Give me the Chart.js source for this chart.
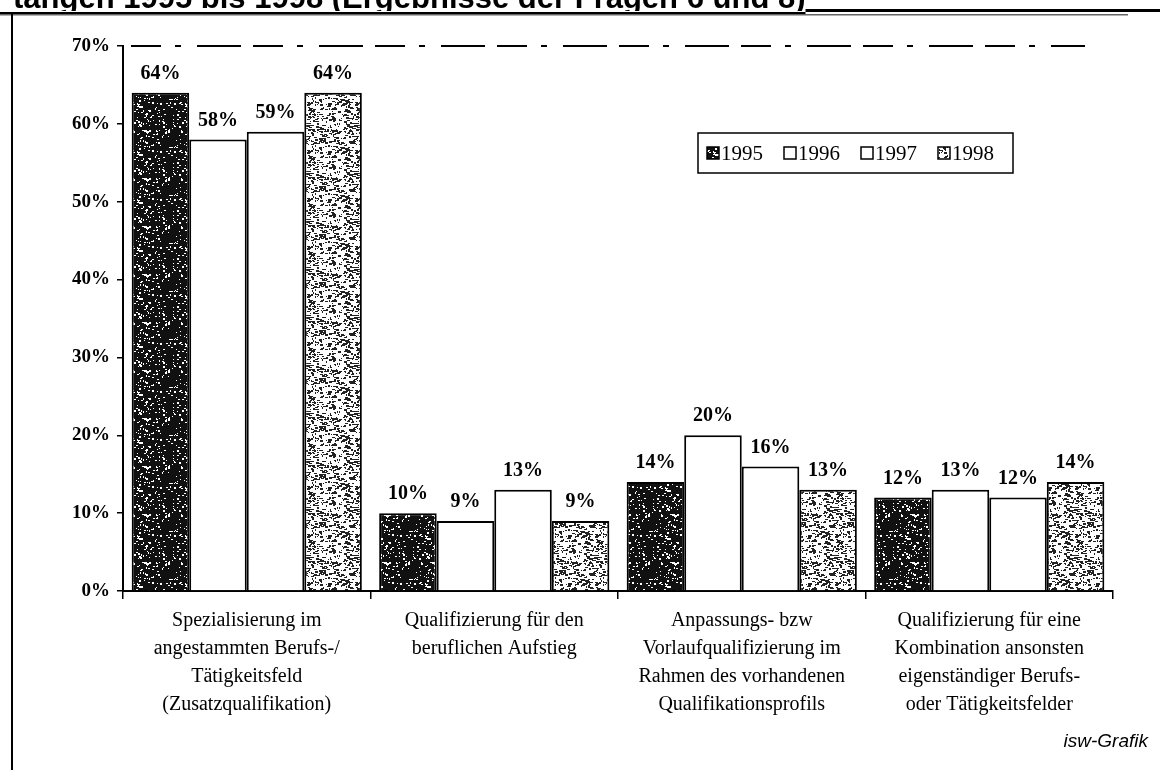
<!DOCTYPE html>
<html>
<head>
<meta charset="utf-8">
<script src="https://cdn.jsdelivr.net/npm/chart.js@4/dist/chart.umd.min.js"></script>
<style>
  html, body { margin: 0; padding: 0; background: #fff; }
  canvas { display: block; }
</style>
</head>
<body>
<canvas id="myChart" width="1160" height="770"></canvas>
<script>
// data
const categories = [
  ['Spezialisierung im', 'angestammten Berufs-/', 'Tätigkeitsfeld', '(Zusatzqualifikation)'],
  ['Qualifizierung für den', 'beruflichen Aufstieg'],
  ['Anpassungs- bzw', 'Vorlaufqualifizierung im', 'Rahmen des vorhandenen', 'Qualifikationsprofils'],
  ['Qualifizierung für eine', 'Kombination ansonsten', 'eigenständiger Berufs-', 'oder Tätigkeitsfelder']
];
const years = ['1995', '1996', '1997', '1998'];
const v1995 = [64, 10, 14, 12];
const v1996 = [58, 9, 20, 13];
const v1997 = [59, 13, 16, 12];
const v1998 = [64, 9, 13, 14];
const yTicks = [0, 10, 20, 30, 40, 50, 60, 70];

const titleText = 'tangen 1995 bis 1998 (Ergebnisse der Fragen 6 und 8)';
const SERIF = '"Liberation Serif", "Times New Roman", serif';
const SANS = '"Liberation Sans", Arial, sans-serif';

// scanned look: speckled fill
function speckle(base, ink, count, maxW, seed) {
  const c = document.createElement('canvas');
  c.width = 48; c.height = 48;
  const g = c.getContext('2d');
  g.fillStyle = base;
  g.fillRect(0, 0, 48, 48);
  g.fillStyle = ink;
  let s = seed;
  const next = () => { s = (s * 16807) % 2147483647; return s / 2147483647; };
  for (let i = 0; i < count; i++) {
    const x = Math.floor(next() * 48), y = Math.floor(next() * 48);
    const w = 1 + Math.floor(next() * maxW), h = 1 + Math.floor(next() * 1.5);
    g.fillRect(x, y, w, h);
  }
  return c.getContext('2d').createPattern(c, 'repeat');
}
const darkFill = speckle('#111111', '#ffffff', 150, 2, 12345);
const lightFill = speckle('#ffffff', '#222222', 360, 3, 67890);

const fills = [darkFill, '#ffffff', '#ffffff', lightFill];

const data = {
  labels: categories,
  datasets: [v1995, v1996, v1997, v1998].map((vals, i) => ({
    label: years[i],
    data: vals,
    backgroundColor: fills[i],
    borderColor: '#000',
    borderWidth: 2,
    borderSkipped: 'bottom',
    barPercentage: 1.0,
    categoryPercentage: 0.93
  }))
};

// page decoration: title strip, frame, credit
const pagePlugin = {
  id: 'page',
  beforeDraw(chart) {
    const ctx = chart.ctx;
    ctx.save();
    ctx.fillStyle = '#fff';
    ctx.fillRect(0, 0, chart.width, chart.height);
    ctx.fillStyle = '#000';
    ctx.font = 'bold 31px ' + SANS;
    ctx.textBaseline = 'alphabetic';
    ctx.textAlign = 'left';
    ctx.fillText(titleText, 13, 8);
    const tw = ctx.measureText(titleText).width;
    ctx.fillStyle = '#fff';
    ctx.fillRect(0, 11, chart.width, 4);
    ctx.fillStyle = '#000';
    ctx.fillRect(0, 12, 13 + tw, 2);
    ctx.fillRect(13 + tw, 9, chart.width, 3);
    ctx.fillStyle = '#666';
    ctx.fillRect(0, 14, 1128, 1.5);
    ctx.fillStyle = '#000';
    ctx.fillRect(11, 14, 2, chart.height - 14);
    ctx.font = 'italic 19px ' + SANS;
    ctx.textAlign = 'right';
    ctx.textBaseline = 'middle';
    ctx.fillText('isw-Grafik', 1148, 742);
    ctx.restore();
  }
};

// value labels, dashed top line and legend box
const labelPlugin = {
  id: 'labels',
  afterDatasetsDraw(chart) {
    const ctx = chart.ctx;
    const area = chart.chartArea;
    const yScale = chart.scales.y;
    ctx.save();
    // broken line at the top of the plot
    ctx.strokeStyle = '#000';
    ctx.lineWidth = 2;
    ctx.setLineDash([30, 14, 6, 16, 44, 12]);
    const yTop = yScale.getPixelForValue(70);
    ctx.beginPath();
    ctx.moveTo(area.left + 8, yTop);
    ctx.lineTo(area.right - 28, yTop);
    ctx.stroke();
    ctx.setLineDash([]);

    ctx.fillStyle = '#000';
    ctx.font = 'bold 20px ' + SERIF;
    ctx.textAlign = 'center';
    ctx.textBaseline = 'bottom';
    chart.data.datasets.forEach((ds, i) => {
      chart.getDatasetMeta(i).data.forEach((bar, j) => {
        ctx.fillText(ds.data[j] + '%', bar.x, bar.y - 9);
      });
    });

    // legend
    const lx = 698, ly = 133, lw = 315, lh = 40;
    ctx.lineWidth = 1.5;
    ctx.strokeRect(lx, ly, lw, lh);
    ctx.font = '21px ' + SERIF;
    ctx.textAlign = 'left';
    ctx.textBaseline = 'middle';
    let x = lx + 9;
    const cy = ly + lh / 2;
    chart.data.datasets.forEach((ds) => {
      ctx.fillStyle = ds.backgroundColor;
      ctx.fillRect(x, cy - 6, 12, 12);
      ctx.strokeStyle = '#000';
      ctx.lineWidth = 1.5;
      ctx.strokeRect(x, cy - 6, 12, 12);
      ctx.fillStyle = '#000';
      ctx.fillText(ds.label, x + 14, cy + 1);
      x += 14 + ctx.measureText(ds.label).width + 21;
    });
    ctx.restore();
  }
};

const config = {
  type: 'bar',
  data,
  options: {
    responsive: false,
    animation: false,
    devicePixelRatio: 1,
    layout: { padding: { top: 46, right: 47, bottom: 0, left: 0 } },
    plugins: {
      legend: { display: false },
      tooltip: { enabled: false }
    },
    scales: {
      x: {
        afterFit: (scale) => { scale.height = 179; },
        grid: { drawOnChartArea: false, tickLength: 8, color: '#000', lineWidth: 1.5, offset: true },
        border: { color: '#000', width: 2 },
        ticks: {
          color: '#000',
          padding: 8,
          maxRotation: 0,
          autoSkip: false,
          font: { family: SERIF, size: 20, lineHeight: 1.4 }
        }
      },
      y: {
        min: 0,
        max: 70,
        afterFit: (scale) => { scale.width = 123; },
        afterBuildTicks: (scale) => { scale.ticks = yTicks.map(v => ({ value: v })); },
        grid: { drawOnChartArea: false, tickLength: 6, color: '#000', lineWidth: 1.5 },
        border: { color: '#000', width: 2 },
        ticks: {
          color: '#000',
          padding: 7,
          font: { family: SERIF, size: 19, weight: 'bold' },
          callback: (v) => v + '%'
        }
      }
    }
  },
  plugins: [pagePlugin, labelPlugin]
};

const myChart = new Chart(document.getElementById('myChart').getContext('2d'), config);
</script>
</body>
</html>
